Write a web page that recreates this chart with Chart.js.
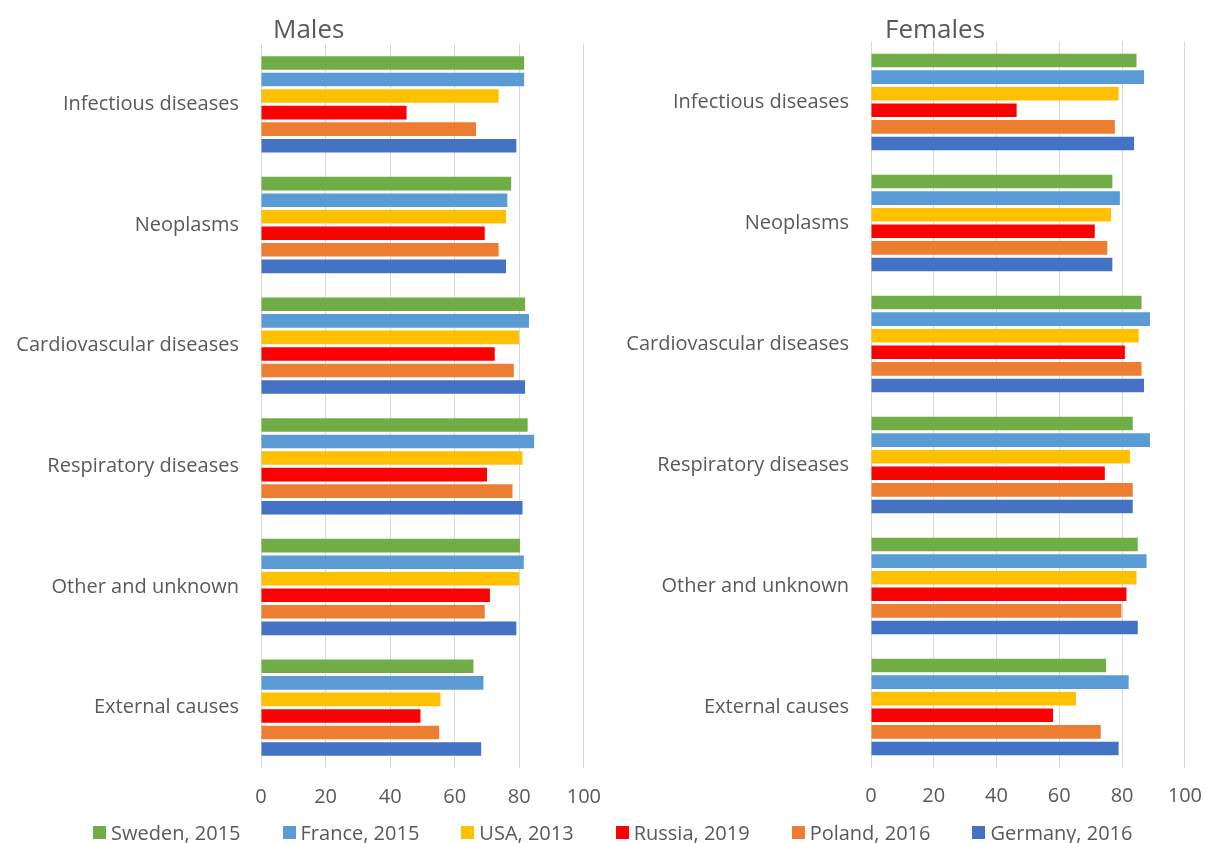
<!DOCTYPE html>
<html>
<head>
<meta charset="utf-8">
<script src="https://cdn.jsdelivr.net/npm/chart.js@4"></script>
<style>
  body { margin: 0; background: #fff; font-family: "Open Sans", sans-serif; }
  #wrap { position: relative; width: 1205px; height: 843px; overflow: hidden; }
  #males { position: absolute; left: 0; top: 0; }
  #females { position: absolute; left: 610px; top: 0; }
  #legend { position: absolute; left: 93px; top: 819px; display: flex; align-items: center;
            font-size: 20px; color: #595959; white-space: nowrap; }
  .item { display: flex; align-items: center; margin-right: 42px; }
  .box { width: 13px; height: 13px; margin-right: 5px; }
</style>
</head>
<body>
<div id="wrap">
  <canvas id="males" width="618" height="843"></canvas>
  <canvas id="females" width="609" height="843"></canvas>
  <div id="legend"></div>
</div>
<script>
const categories = ['Infectious diseases', 'Neoplasms', 'Cardiovascular diseases',
  'Respiratory diseases', 'Other and unknown', 'External causes'];
const countries = ['Sweden, 2015', 'France, 2015', 'USA, 2013', 'Russia, 2019', 'Poland, 2016', 'Germany, 2016'];
const colores = ['#70AD47', '#5B9BD5', '#FFC000', '#FF0000', '#ED7D31', '#4472C4'];
const xTicks = [0, 20, 40, 60, 80, 100];

// males, one array per country (categories order)
const maleSweden  = [81.5, 77.5, 81.8, 82.6, 80.2, 65.8];
const maleFrance  = [81.5, 76.3, 83.0, 84.6, 81.4, 68.9];
const maleUSA     = [73.6, 75.9, 79.9, 81.0, 79.9, 55.6];
const maleRussia  = [45.1, 69.3, 72.4, 70.0, 70.9, 49.4];
const malePoland  = [66.6, 73.6, 78.3, 77.9, 69.3, 55.2];
const maleGermany = [79.1, 75.9, 81.8, 81.0, 79.1, 68.2];

// females
const femSweden  = [84.6, 76.9, 86.2, 83.4, 85.0, 74.9];
const femFrance  = [87.0, 79.3, 88.9, 88.9, 87.8, 82.1];
const femUSA     = [78.9, 76.5, 85.3, 82.5, 84.6, 65.3];
const femRussia  = [46.4, 71.3, 80.9, 74.5, 81.4, 58.0];
const femPoland  = [77.7, 75.3, 86.2, 83.4, 79.8, 73.2];
const femGermany = [83.8, 76.9, 87.0, 83.4, 85.0, 78.9];

const maleData = [maleSweden, maleFrance, maleUSA, maleRussia, malePoland, maleGermany];
const femData = [femSweden, femFrance, femUSA, femRussia, femPoland, femGermany];

const fuente = { family: '"Open Sans", sans-serif', size: 20 };
const gris = '#595959';

// titulo arriba a la izquierda del area
const tituloPlugin = {
  id: 'tituloPlugin',
  afterDraw(chart, args, opts) {
    const ctx = chart.ctx;
    ctx.save();
    ctx.font = '26px "Open Sans", sans-serif';
    ctx.fillStyle = gris;
    ctx.textBaseline = 'alphabetic';
    ctx.textAlign = 'left';
    ctx.fillText(opts.text, chart.chartArea.left + opts.dx, 38);
    ctx.restore();
  }
};

function crearGrafico(id, titulo, datos, padTop, bottom, dx) {
  return new Chart(document.getElementById(id), {
    type: 'bar',
    data: {
      labels: categories,
      datasets: countries.map((c, i) => ({
        label: c,
        data: datos[i],
        backgroundColor: colores[i],
        categoryPercentage: 0.823,
        barPercentage: 0.82
      }))
    },
    options: {
      indexAxis: 'y',
      responsive: false,
      animation: false,
      layout: { padding: { top: padTop, right: 0, left: 0, bottom: 0 } },
      plugins: {
        legend: { display: false },
        tooltip: { enabled: false },
        tituloPlugin: { text: titulo, dx: dx }
      },
      scales: {
        x: {
          min: 0,
          max: 100,
          afterBuildTicks: (scale) => { scale.ticks = xTicks.map(v => ({ value: v })); },
          afterFit: (scale) => { scale.height = 843 - bottom; },
          ticks: { font: fuente, color: gris, padding: 17 },
          grid: { color: '#d9d9d9', lineWidth: 1, drawTicks: false },
          border: { display: false }
        },
        y: {
          afterFit: (scale) => { scale.width = 261; },
          ticks: { font: fuente, color: gris, padding: 22 },
          grid: { display: false, drawTicks: false },
          border: { display: false }
        }
      }
    },
    plugins: [tituloPlugin]
  });
}

crearGrafico('males', 'Males', maleData, 44, 768, 12);
crearGrafico('females', 'Females', femData, 41.5, 767.5, 14);

// leyenda comun
const leyenda = document.getElementById('legend');
countries.forEach((c, i) => {
  const it = document.createElement('div');
  it.className = 'item';
  it.innerHTML = '<span class="box" style="background:' + colores[i] + '"></span><span>' + c + '</span>';
  leyenda.appendChild(it);
});
</script>
</body>
</html>
